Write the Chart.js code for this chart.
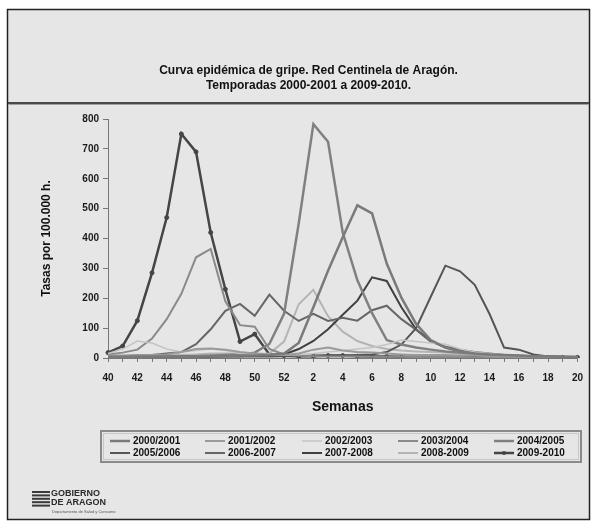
<!DOCTYPE html>
<html>
<head>
<meta charset="utf-8">
<title>Curva epidémica de gripe. Red Centinela de Aragón</title>
<script src="https://cdn.jsdelivr.net/npm/chart.js@4.4.1/dist/chart.umd.min.js"></script>
<style>
  html, body { margin: 0; padding: 0; background: #fff; }
  canvas { display: block; }
</style>
</head>
<body>
<canvas id="chart" width="593" height="525"></canvas>
<script>
// weeks 40..52 then 1..20
const weeks = ["40","41","42","43","44","45","46","47","48","49","50","51","52",
  "1","2","3","4","5","6","7","8","9","10","11","12","13","14","15","16","17","18","19","20"];

const seasons = ["2000/2001","2001/2002","2002/2003","2003/2004","2004/2005",
  "2005/2006","2006-2007","2007-2008","2008-2009","2009-2010"];

const rates2000 = [4,4,5,5,5,6,6,6,6,8,8,10,15,50,170,292,404,511,484,316,202,114,60,35,22,15,12,10,8,6,5,4,3];
const rates2001 = [8,8,10,10,12,20,30,32,28,20,15,12,10,15,28,35,25,20,18,15,12,10,10,10,8,8,6,5,4,4,3,3,2];
const rates2002 = [15,30,57,50,30,20,25,30,25,15,12,10,10,12,15,20,25,30,35,45,60,55,50,46,30,20,15,10,8,6,4,3,2];
const rates2003 = [12,18,28,65,130,215,337,365,190,110,105,30,12,8,6,5,5,5,4,4,4,3,3,3,3,2,2,2,2,2,1,1,1];
const rates2004 = [3,3,4,5,5,5,6,8,10,12,18,47,148,450,783,724,420,260,150,60,45,35,28,22,18,14,10,8,6,5,4,3,3];
const rates2005 = [2,2,3,3,3,4,4,4,5,5,5,5,6,6,8,8,8,10,12,20,45,100,205,309,290,245,148,35,28,12,5,3,2];
const rates2006 = [5,5,8,10,15,20,46,96,158,181,141,212,158,124,148,124,135,125,160,175,130,95,55,38,28,20,15,10,8,6,5,4,3];
const rates2007 = [3,3,3,4,4,5,5,5,6,6,8,10,12,30,57,96,145,192,270,258,170,96,57,35,25,18,12,8,6,5,4,3,3];
const rates2008 = [5,5,5,6,8,10,12,15,15,15,14,15,55,180,228,140,88,57,40,30,25,22,20,18,15,12,10,8,6,5,4,3,3];
const rates2009 = [18,40,125,285,470,750,690,420,230,55,80,12,8,6,6,8,8,6,5,5,4,4,4,3,3,3,3,3,2,2,2,2,2];

const seriesValues = [rates2000, rates2001, rates2002, rates2003, rates2004,
  rates2005, rates2006, rates2007, rates2008, rates2009];
const seriesColors = ["#7a7a7a","#9a9a9a","#c4c4c4","#8a8a8a","#808080",
  "#555555","#666666","#404040","#b4b4b4","#454545"];
const seriesWidths = [2.5, 2, 1.5, 2, 2.5, 2, 2, 2, 2, 2.5];

const titleLines = ["Curva epidémica de gripe. Red Centinela de Aragón.",
  "Temporadas 2000-2001 a 2009-2010."];

const FONT = "Arial, 'Liberation Sans', sans-serif";
Chart.defaults.font.family = FONT;
Chart.defaults.color = "#1a1a1a";

const datasets = seasons.map((name, i) => ({
  label: name,
  data: seriesValues[i],
  borderColor: seriesColors[i],
  backgroundColor: seriesColors[i],
  borderWidth: seriesWidths[i],
  pointRadius: i === 9 ? 2 : 0,
  pointStyle: "circle",
  pointBorderWidth: 1,
  tension: 0,
  fill: false
}));

// frame, separator, legend box and logo
const decor = {
  id: "decor",
  beforeDraw(chart) {
    const ctx = chart.ctx;
    ctx.save();
    ctx.fillStyle = "#fff";
    ctx.fillRect(0, 0, chart.width, chart.height);
    ctx.fillStyle = "#e6e6e6";
    ctx.fillRect(8, 10, 581, 509);
    ctx.strokeStyle = "#222";
    ctx.lineWidth = 1.5;
    ctx.strokeRect(7.5, 9.5, 582, 510);
    ctx.fillStyle = "#4a4a4a";
    ctx.fillRect(8, 102, 581, 2);
    ctx.fillStyle = "#a0a0a0";
    ctx.fillRect(8, 104, 581, 1);
    ctx.restore();
  },
  afterDraw(chart) {
    const ctx = chart.ctx;
    ctx.save();
    // legend box
    ctx.strokeStyle = "#8a8a8a";
    ctx.lineWidth = 2;
    ctx.strokeRect(101, 431, 480, 31);
    ctx.strokeStyle = "#c8c8c8";
    ctx.lineWidth = 1;
    ctx.strokeRect(103.5, 433.5, 475, 26);
    const cols = [110, 205, 302, 398, 494];
    const rows = [441, 453];
    ctx.font = "bold 10px " + FONT;
    ctx.textBaseline = "middle";
    chart.data.datasets.forEach((ds, i) => {
      const x = cols[i % 5], y = rows[Math.floor(i / 5)];
      ctx.strokeStyle = ds.borderColor;
      ctx.lineWidth = ds.borderWidth;
      ctx.beginPath();
      ctx.moveTo(x, y);
      ctx.lineTo(x + 20, y);
      ctx.stroke();
      if (ds.pointRadius) {
        ctx.fillStyle = ds.borderColor;
        ctx.beginPath();
        ctx.arc(x + 10, y, 2, 0, Math.PI * 2);
        ctx.fill();
      }
      ctx.fillStyle = "#111";
      ctx.fillText(ds.label, x + 23, y);
    });
    // logo
    ctx.fillStyle = "#3a3a3a";
    for (let k = 0; k < 5; k++) ctx.fillRect(32, 491 + k * 3.4, 18, 2);
    ctx.font = "bold 9px " + FONT;
    ctx.fillStyle = "#2a2a2a";
    ctx.fillText("GOBIERNO", 51, 494);
    ctx.fillText("DE ARAGON", 51, 502.5);
    ctx.font = "4px " + FONT;
    ctx.fillStyle = "#555";
    ctx.fillText("Departamento de Salud y Consumo", 52, 512);
    ctx.restore();
  }
};

new Chart(document.getElementById("chart"), {
  type: "line",
  data: { labels: weeks, datasets: datasets },
  plugins: [decor],
  options: {
    responsive: false,
    animation: false,
    devicePixelRatio: 1,
    layout: { padding: { top: 0, left: 36, right: 12, bottom: 107 } },
    plugins: {
      legend: { display: false },
      tooltip: { enabled: false },
      title: {
        display: true,
        text: titleLines,
        color: "#111",
        font: { size: 12, weight: "bold", lineHeight: 1.25 },
        padding: { top: 63, bottom: 26 }
      }
    },
    scales: {
      x: {
        afterFit(scale) { scale.height = 60; },
        border: { color: "#777", width: 1 },
        grid: { drawOnChartArea: false, drawTicks: true, tickLength: 4, color: "#777" },
        ticks: {
          autoSkip: false,
          maxRotation: 0,
          padding: 10,
          color: "#1a1a1a",
          font: { size: 10, weight: "bold" },
          callback: (value, index) => (index % 2 === 0 ? weeks[index] : "")
        },
        title: {
          display: true,
          text: "Semanas",
          color: "#111",
          font: { size: 14, weight: "bold" },
          padding: { top: 0, bottom: 2 }
        }
      },
      y: {
        min: 0,
        max: 800,
        afterFit(scale) { scale.width = 72; },
        border: { color: "#777", width: 1 },
        grid: { drawOnChartArea: false, drawTicks: true, tickLength: 5, color: "#777" },
        ticks: {
          stepSize: 100,
          padding: 4,
          color: "#1a1a1a",
          font: { size: 10, weight: "bold" }
        },
        title: {
          display: true,
          text: "Tasas por 100.000 h.",
          color: "#111",
          font: { size: 12, weight: "bold" },
          padding: { top: 3, bottom: 4 }
        }
      }
    }
  }
});
</script>
</body>
</html>
